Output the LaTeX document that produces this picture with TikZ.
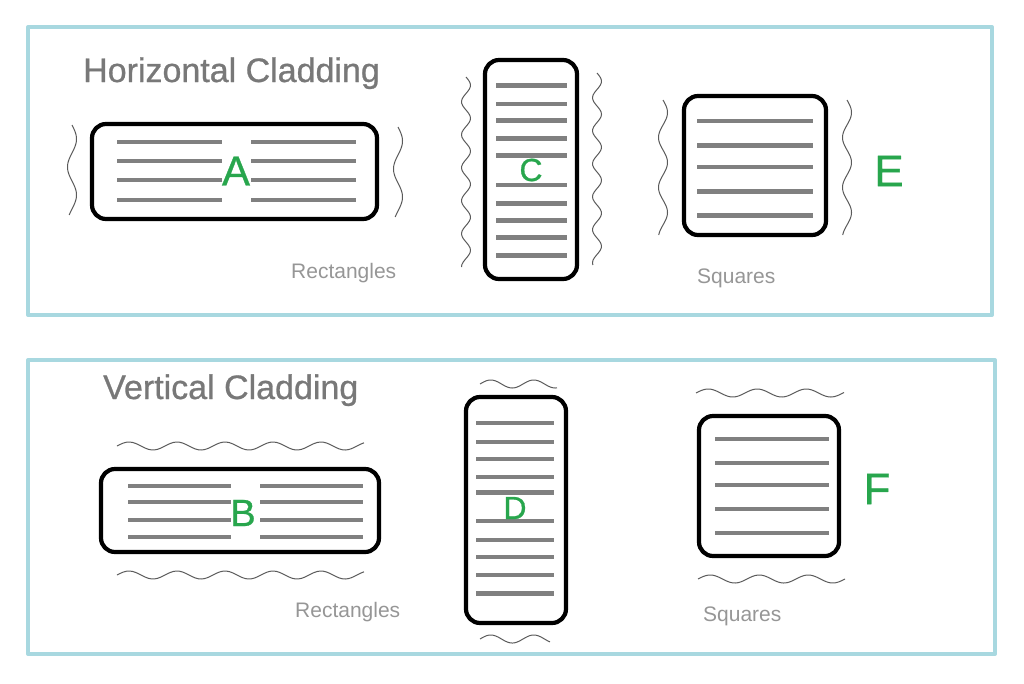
\documentclass[tikz,border=0pt]{standalone}
\usepackage{fontspec}
\setmainfont{Liberation Sans}
\newfontfamily\heavyfont[FakeBold=0.8]{Liberation Sans}
\usepackage{tikz}
\definecolor{panelblue}{RGB}{168,216,224}
\definecolor{slatgray}{RGB}{128,128,128}
\definecolor{cladgreen}{RGB}{40,166,77}
\definecolor{titlegray}{RGB}{120,120,120}
\definecolor{notegray}{RGB}{150,150,150}
\definecolor{wavegray}{RGB}{90,90,90}

\begin{document}
\begin{tikzpicture}[x=1pt, y=-1pt, line join = round,
    panel/.style={draw=panelblue, line width=4pt},
    board/.style={draw=black, line width=4.2pt, rounded corners=14pt},
    slat/.style={slatgray, line width=4.2pt},
    wave/.style={wavegray, line width=1pt},
    title/.style={text=titlegray, inner sep=0pt, anchor=base west, font=\heavyfont\fontsize{34}{34}\selectfont},
    note/.style={text=notegray, inner sep=0pt, anchor=base west, font=\fontsize{21}{21}\selectfont},
    letter/.style={text=cladgreen, inner sep=0pt, font=\heavyfont\fontsize{#1}{#1}\selectfont}]
    \useasboundingbox (0,0) rectangle (1024,683);

    % panels
    \draw[panel] (28,27) rectangle (992,315);
    \draw[panel] (28,360) rectangle (995,654);
    \node[title] (htitle) at (83,82) {Horizontal Cladding};
    \node[title] (vtitle) at (103,399) {Vertical Cladding};

    % horizontal cladding
    \draw[board] (92,124) rectangle (377,219);
    \foreach \sy in {142,161,180,200} {
        \draw[slat] (117,\sy) -- (222,\sy);
        \draw[slat] (251,\sy) -- (356,\sy);
    }
    \draw[board] (485,60) rectangle (577,279);
    \foreach \sy in {85.5,104,120.5,138.5,155.5,185,203.5,220.5,237.5,255.5}
        \draw[slat] (496,\sy) -- (567,\sy);
    \draw[board] (684,96) rectangle (826,235);
    \foreach \sy in {121,145.5,167,191.5,215.5}
        \draw[slat] (697,\sy) -- (813,\sy);

    % vertical cladding
    \draw[board] (101,469) rectangle (379,552);
    \foreach \sy in {486,502,520,537} {
        \draw[slat] (128,\sy) -- (231,\sy);
        \draw[slat] (260,\sy) -- (363,\sy);
    }
    \draw[board] (466,397) rectangle (566,623);
    \foreach \sy in {423,442,459,477,492.5,521,540,557,575,593.5}
        \draw[slat] (476,\sy) -- (554,\sy);
    \draw[board] (699,416) rectangle (839,556);
    \foreach \sy in {439,463,485,509,533}
        \draw[slat] (715,\sy) -- (829,\sy);

    % joints
    \foreach \wx/\wa/\wb/\wp in {72/125/215/56, 398/127/217/56, 466/77/267/33, 597/73/265/33, 663/100/235/50, 847/100/235/50}
        \draw[wave] plot[domain=\wa:\wb, samples=80, smooth] ({\wx+4.5*sin((\x-\wa)/\wp*360)}, \x);
    \foreach \wy/\wa/\wb/\wp in {446/117/364/48, 575/117/364/48, 384/480/557/43, 639/480/550/43, 393/696/844/49, 579/698/845/49}
        \draw[wave] plot[domain=\wa:\wb, samples=80, smooth] (\x, {\wy-4*sin((\x-\wa)/\wp*360)});

    \node[letter=42] (labA) at (236,171) {A};
    \node[letter=38] (labB) at (243,513) {B};
    \node[letter=32] (labC) at (531,170) {C};
    \node[letter=32] (labD) at (515,508) {D};
    \node[letter=44] (labE) at (889,171) {E};
    \node[letter=44] (labF) at (877,489) {F};

    \node[note] (hrect) at (291,278) {Rectangles};
    \node[note] (hsq) at (697,283) {Squares};
    \node[note] (vrect) at (295,617) {Rectangles};
    \node[note] (vsq) at (703,621) {Squares};
\end{tikzpicture}
\end{document}
